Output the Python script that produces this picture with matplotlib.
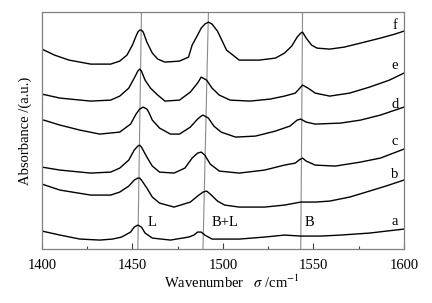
import matplotlib
matplotlib.use('Agg')
import matplotlib.pyplot as plt

plt.rcParams['font.family'] = ['Liberation Serif', 'DejaVu Serif']
plt.rcParams['mathtext.fontset'] = 'stix'

# spectra (absorbance in arbitrary units)
wn_a = [1400, 1410, 1421, 1432, 1439, 1444, 1449, 1451, 1453, 1455, 1457, 1461, 1471, 1481,
        1484, 1486, 1488, 1490, 1494, 1509, 1523, 1534, 1543, 1554, 1565, 1581, 1600]
abs_a = [18, 14, 10, 9, 10, 12, 17, 22, 24, 22, 16, 11, 9, 12,
         14, 17, 17, 14, 10, 10, 12, 14, 13, 13, 14, 16, 20]

wn_b = [1400, 1410, 1427, 1438, 1443, 1448, 1451, 1453, 1454, 1455, 1458, 1461, 1465, 1473,
        1482, 1486, 1489, 1491, 1493, 1497, 1501, 1509, 1523, 1534, 1540, 1543, 1551, 1559,
        1570, 1581, 1590, 1600]
abs_b = [65, 59, 54, 54, 57, 63, 69, 71, 71, 69, 61, 52, 46, 42,
         47, 53, 57, 58, 55, 48, 44, 42, 42, 44, 46, 47, 47, 48,
         52, 58, 63, 69]

wn_c = [1400, 1410, 1427, 1438, 1443, 1448, 1451, 1453, 1454, 1455, 1458, 1461, 1465, 1473,
        1479, 1483, 1486, 1488, 1490, 1493, 1498, 1509, 1523, 1534, 1540, 1542, 1544, 1546,
        1551, 1562, 1576, 1587, 1600]
abs_c = [82, 79, 76, 77, 81, 89, 99, 103, 104, 102, 92, 83, 77, 76,
         81, 91, 96, 97, 94, 85, 78, 76, 79, 84, 86, 89, 91, 88,
         84, 83, 87, 91, 100]

wn_d = [1401, 1410, 1421, 1432, 1443, 1449, 1452, 1454, 1455, 1456, 1458, 1459, 1461, 1465,
        1471, 1476, 1482, 1486, 1488, 1489, 1492, 1495, 1499, 1507, 1518, 1529, 1537, 1541,
        1543, 1546, 1551, 1565, 1576, 1587, 1600]
abs_d = [129, 124, 119, 115, 117, 125, 135, 140, 141, 142, 140, 137, 129, 121,
         115, 115, 122, 130, 133, 134, 131, 123, 117, 112, 113, 118, 123, 129,
         130, 127, 125, 126, 129, 134, 142]

wn_e = [1400, 1410, 1427, 1438, 1443, 1448, 1451, 1453, 1454, 1455, 1457, 1460, 1464, 1468,
        1476, 1482, 1486, 1488, 1491, 1494, 1498, 1504, 1515, 1526, 1534, 1540, 1543, 1544,
        1547, 1551, 1559, 1570, 1581, 1592, 1600]
abs_e = [155, 151, 148, 149, 153, 161, 171, 178, 180, 178, 169, 161, 154, 148,
         149, 157, 166, 172, 169, 161, 154, 149, 148, 150, 153, 156, 162, 164,
         161, 156, 153, 156, 162, 169, 176]

wn_f = [1400, 1407, 1415, 1427, 1438, 1443, 1447, 1450, 1452, 1453, 1454, 1455, 1456, 1458,
        1461, 1464, 1468, 1476, 1481, 1483, 1486, 1488, 1490, 1492, 1494, 1497, 1502, 1509,
        1520, 1529, 1534, 1538, 1541, 1543, 1544, 1546, 1549, 1552, 1559, 1567, 1576, 1587,
        1595, 1600]
abs_f = [200, 194, 189, 185, 185, 188, 194, 204, 213, 217, 219, 219, 217, 207,
         196, 190, 187, 188, 192, 204, 214, 221, 225, 227, 225, 218, 199, 189,
         189, 191, 196, 203, 212, 216, 217, 211, 204, 201, 200, 202, 206, 211,
         215, 218]

spectra = [(wn_a, abs_a), (wn_b, abs_b), (wn_c, abs_c),
           (wn_d, abs_d), (wn_e, abs_e), (wn_f, abs_f)]
curve_names = ['a', 'b', 'c', 'd', 'e', 'f']
name_y = [28, 75, 108, 145, 184, 224]

# band markers (top, bottom position) and their labels
bands = ['L', 'B+L', 'B']
band_top = [1455, 1492, 1544]
band_bottom = [1453, 1489, 1543]
band_label_x = [1461, 1501, 1548]

fig = plt.figure(figsize=(4.32, 3.03), dpi=100)
ax = fig.add_axes([0.097, 0.178, 0.838, 0.782])

for top, bot in zip(band_top, band_bottom):
    ax.plot([top, bot], [237, 0], color='#8a8a8a', lw=0.8)

for wn, ab in spectra:
    ax.plot(wn, ab, color='black', lw=1.0)

for name, y in zip(curve_names, name_y):
    ax.text(1595, y, name, ha='center', va='center', fontsize=10.5)

for name, x in zip(bands, band_label_x):
    ax.text(x, 27, name, ha='center', va='center', fontsize=10.5)

ax.set_xlim(1400, 1600)
ax.set_ylim(0, 237)
ax.set_xticks([1400, 1450, 1500, 1550, 1600])
ax.set_xticks([1425, 1475, 1525, 1575], minor=True)
ax.set_yticks([])
ax.tick_params(axis='x', direction='in', length=4, width=0.8, color='#404040',
               labelsize=10.5, pad=7)
ax.tick_params(axis='x', which='minor', direction='in', length=2.5, width=0.8, color='#404040')
for s in ax.spines.values():
    s.set_color('#808080')
    s.set_linewidth(0.9)

ax.set_xlabel('Wavenumber   $\\sigma$ /cm$^{-1}$', fontsize=10.5)
ax.set_ylabel('Absorbance /(a.u.)', fontsize=10.5)
ax.xaxis.set_label_coords(0.525, -0.105)
ax.yaxis.set_label_coords(-0.028, 0.5)

fig.savefig('out.png', dpi=100)
